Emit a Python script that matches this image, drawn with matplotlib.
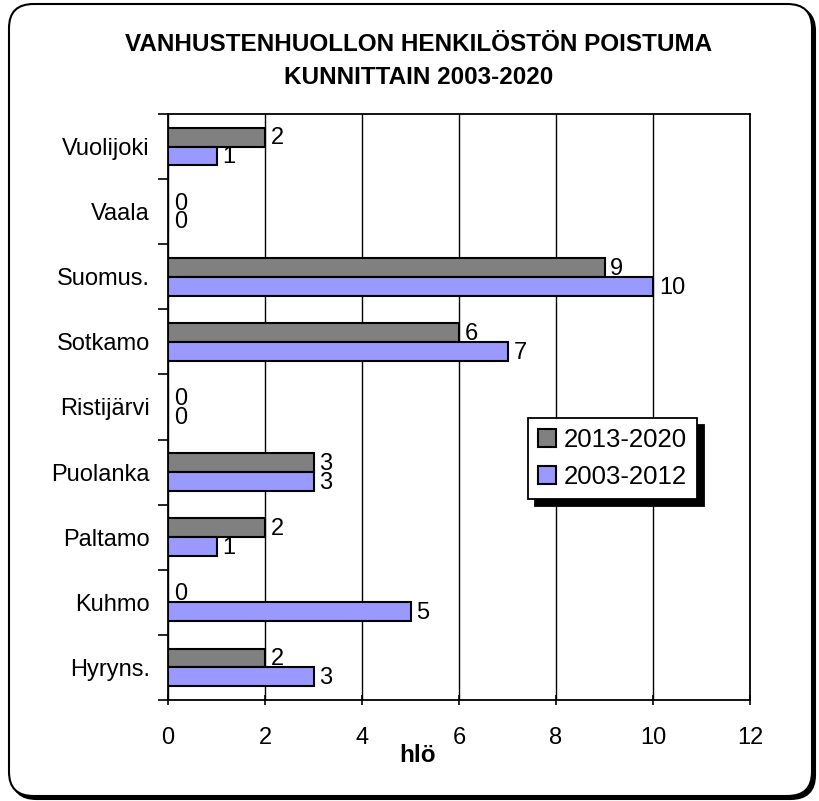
import matplotlib.pyplot as plt
from matplotlib.patches import FancyBboxPatch
import numpy as np

plt.rcParams['font.family'] = ['Liberation Sans', 'DejaVu Sans']

kunnat = ['Hyryns.', 'Kuhmo', 'Paltamo', 'Puolanka', 'Ristijärvi',
          'Sotkamo', 'Suomus.', 'Vaala', 'Vuolijoki']
v2013_2020 = [2, 0, 2, 3, 0, 6, 9, 0, 2]
v2003_2012 = [3, 5, 1, 3, 0, 7, 10, 0, 1]

W, H = 819, 801
fig = plt.figure(figsize=(W / 100, H / 100), dpi=100)

# rounded frame with shadow
shadow = FancyBboxPatch((12 / W, 2 / H), 803 / W, 792 / H,
                        boxstyle="round,pad=0,rounding_size=0.03",
                        transform=fig.transFigure, facecolor='black',
                        edgecolor='black', linewidth=1.5, zorder=-2)
frame = FancyBboxPatch((9 / W, 5 / H), 803 / W, 792 / H,
                       boxstyle="round,pad=0,rounding_size=0.03",
                       transform=fig.transFigure, facecolor='white',
                       edgecolor='black', linewidth=1.5, zorder=-1)
fig.patches.extend([shadow, frame])

ax = fig.add_axes([168 / W, 1 - 700 / H, 582 / W, 586 / H])
ax.set_facecolor('none')

y = np.arange(len(kunnat))
h = 0.29
b1 = ax.barh(y + h / 2, v2013_2020, height=h, color='#808080',
             edgecolor='black', linewidth=1.5, label='2013-2020', zorder=3)
b2 = ax.barh(y - h / 2, v2003_2012, height=h, color='#9999FF',
             edgecolor='black', linewidth=1.5, label='2003-2012', zorder=3)

for bars in (b1, b2):
    for r in bars:
        ax.text(r.get_width() + 0.12, r.get_y() + r.get_height() / 2 - 0.02,
                f'{int(r.get_width())}', va='center', ha='left', fontsize=17)

ax.set_xlim(0, 12)
ax.set_ylim(-0.5, len(kunnat) - 0.5)
ax.set_xticks(range(0, 13, 2))
ax.set_yticks(y)
ax.set_yticklabels(kunnat)
ax.set_yticks(np.arange(-0.5, len(kunnat), 1), minor=True)
ax.tick_params(axis='y', which='major', length=0, labelsize=17, pad=13)
ax.tick_params(axis='y', which='minor', length=7, width=1.2, direction='out')
ax.tick_params(axis='x', length=7, width=1.2, direction='inout', labelsize=17, pad=16)
ax.grid(axis='x', color='black', linewidth=1, zorder=0)
for s in ax.spines.values():
    s.set_linewidth(1.3)

fig.text(418 / W, 1 - 756 / H, 'hlö', ha='center', va='center',
         fontsize=17.5, fontweight='bold')
fig.text(419 / W, 1 - 61 / H,
         'VANHUSTENHUOLLON HENKILÖSTÖN POISTUMA\nKUNNITTAIN 2003-2020',
         ha='center', va='center', fontsize=17.5, fontweight='bold',
         linespacing=1.6)

leg = ax.legend(loc='upper left', bbox_to_anchor=(360 / 582, 1 - (418 - 114) / 586),
                fontsize=18.5, frameon=True, fancybox=False,
                shadow={'color': 'black', 'alpha': 1, 'ox': 5, 'oy': -5},
                handlelength=0.7, handleheight=0.7, handletextpad=0.3,
                borderpad=0.4, labelspacing=0.5, borderaxespad=0)
leg.get_frame().set_edgecolor('black')
leg.get_frame().set_linewidth(1.3)

fig.savefig('out.png', dpi=100)
